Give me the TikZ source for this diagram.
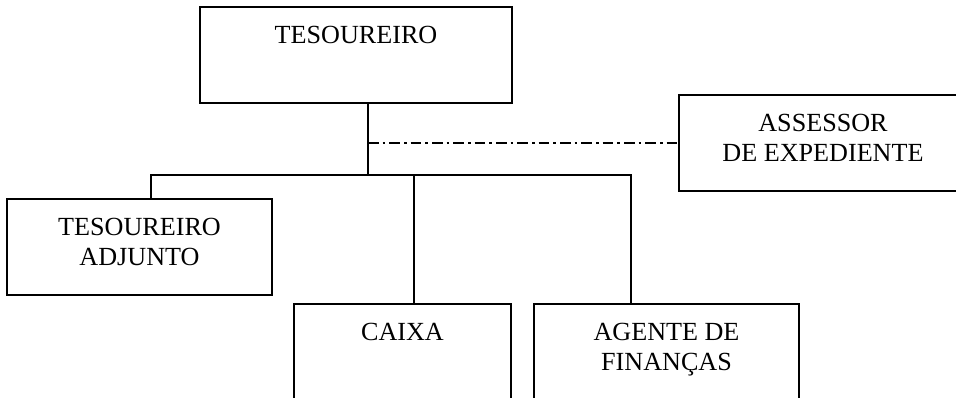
\documentclass[tikz,border=0pt]{standalone}
\usepackage{fontspec}
\setmainfont{Liberation Serif}
\usetikzlibrary{positioning}

\begin{document}
\begin{tikzpicture}[x=0.75pt,y=-0.75pt,line width=1.1pt,
    staff/.style={dash pattern=on 8pt off 3pt on 2pt off 3pt}]

    \tikzstyle{box}=[draw=black,rectangle,anchor=north west,inner sep=0pt,outer sep=0pt,minimum height=72pt]
    \tikzstyle{txt}=[inner sep=0pt,align=center,text=black,font=\fontsize{19.6}{22.6}\selectfont]

    % the right and lower boxes run off the page
    \useasboundingbox (0,0) rectangle (956,398);
    \clip (0,0) rectangle (956,398);

    \node[box, minimum width=234pt]    (tes) at (200,7)   {};
    \node[box, minimum width=216pt]    (ass) at (679,95)  {};
    \node[box, minimum width=198.75pt] (adj) at (7,199)   {};
    \node[box, minimum width=162.75pt] (cai) at (294,304) {};
    \node[box, minimum width=198.75pt] (age) at (534,304) {};

    \node[txt, below=13.5pt of tes.north] (tesT) {TESOUREIRO};
    \node[txt, below=13.5pt of ass.north] (assT) {ASSESSOR\\DE EXPEDIENTE};
    \node[txt, below=13.5pt of adj.north] (adjT) {TESOUREIRO\\ADJUNTO};
    \node[txt, below=13.5pt of cai.north] (caiT) {CAIXA};
    \node[txt, below=13.5pt of age.north] (ageT) {AGENTE DE\\FINANÇAS};

    \coordinate (hub)  at (368,175);
    \coordinate (side) at (368,143);
    \coordinate (busL) at (151,175);
    \coordinate (busC) at (414,175);
    \coordinate (busR) at (631,175);

    \draw (tes.south -| hub) -- (hub);
    \draw (adj.north -| busL) -- (busL) -- (busR) -- (age.north -| busR);
    \draw (busC) -- (cai.north -| busC);
    \draw[staff] (side) -- (ass.west);
\end{tikzpicture}
\end{document}
